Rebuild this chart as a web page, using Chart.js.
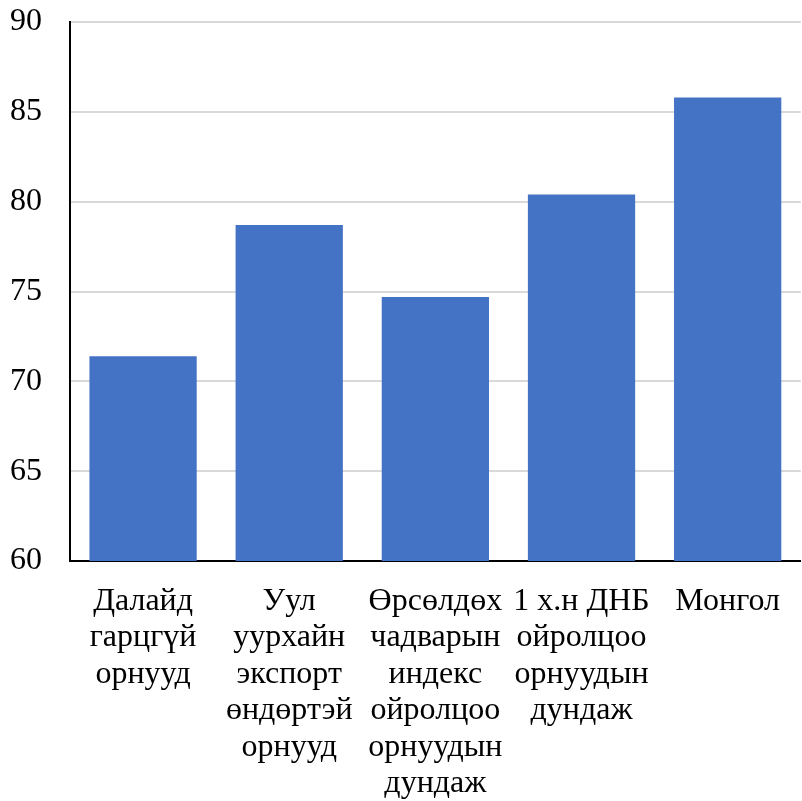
<!DOCTYPE html>
<html>
<head>
<meta charset="utf-8">
<script src="https://cdn.jsdelivr.net/npm/chart.js@4"></script>
<style>
  html, body { margin: 0; padding: 0; background: #fff; }
  #wrap { width: 802px; height: 801px; }
</style>
</head>
<body>
<div id="wrap"><canvas id="barChart"></canvas></div>
<script>
// categories (multi-line labels as in the picture)
var categories = [
    ['Далайд', 'гарцгүй', 'орнууд'],
    ['Уул', 'уурхайн', 'экспорт', 'өндөртэй', 'орнууд'],
    ['Өрсөлдөх', 'чадварын', 'индекс', 'ойролцоо', 'орнуудын', 'дундаж'],
    ['1 х.н ДНБ', 'ойролцоо', 'орнуудын', 'дундаж'],
    ['Монгол']
];
var values = [71.4, 78.7, 74.7, 80.4, 85.8];
var yTicks = [60, 65, 70, 75, 80, 85, 90];

document.addEventListener('DOMContentLoaded', function () {
    var ctx = document.getElementById('barChart').getContext('2d');
    var family = '"Liberation Serif", "Times New Roman", serif';

    new Chart(ctx, {
        type: 'bar',
        data: {
            labels: categories,
            datasets: [{
                data: values,
                backgroundColor: '#4472C4',
                categoryPercentage: 0.734,
                barPercentage: 1
            }]
        },
        options: {
            responsive: true,
            maintainAspectRatio: false,
            animation: false,
            layout: { padding: 0 },
            plugins: {
                legend: { display: false },
                tooltip: { enabled: false }
            },
            scales: {
                x: {
                    grid: { display: false, drawTicks: false },
                    border: { color: '#000', width: 2 },
                    ticks: {
                        color: '#000',
                        font: { family: family, size: 32, lineHeight: 1.14 },
                        padding: 22, maxRotation: 0, autoSkip: false
                    },
                    afterFit: function (axis) { axis.height = 240; }
                },
                y: {
                    min: yTicks[0],
                    max: yTicks[yTicks.length - 1],
                    afterBuildTicks: function (axis) {
                        axis.ticks = yTicks.map(function (v) { return { value: v }; });
                    },
                    grid: { color: '#d9d9d9', lineWidth: 2, drawTicks: false },
                    border: { color: '#000', width: 2 },
                    ticks: {
                        color: '#000',
                        font: { family: family, size: 32, lineHeight: 1 },
                        padding: 28
                    },
                    afterFit: function (axis) {
                        axis.width = 70;
                        axis.paddingTop = 22;
                        axis.paddingBottom = 0;
                    }
                }
            }
        }
    });
});
</script>
</body>
</html>
